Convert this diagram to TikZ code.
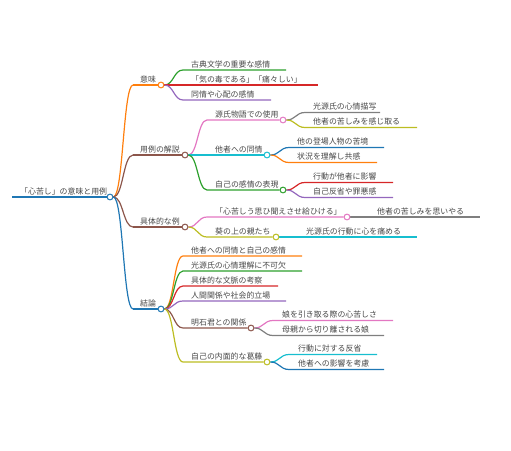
\documentclass[tikz,border=0pt]{standalone}
\usepackage{fontspec}
\setmainfont{Noto Sans CJK JP}
\usetikzlibrary{calc,backgrounds}
\definecolor{mmblue}{HTML}{1F77B4}
\definecolor{mmorange}{HTML}{FF7F0E}
\definecolor{mmgreen}{HTML}{2CA02C}
\definecolor{mmred}{HTML}{D62728}
\definecolor{mmpurple}{HTML}{9467BD}
\definecolor{mmbrown}{HTML}{8C564B}
\definecolor{mmpink}{HTML}{E377C2}
\definecolor{mmgray}{HTML}{7F7F7F}
\definecolor{mmolive}{HTML}{BCBD22}
\definecolor{mmcyan}{HTML}{17BECF}

\begin{document}
\begin{tikzpicture}[
  x=1pt, y=-1pt,
  txt/.style={font=\fontsize{7.9}{9}\selectfont, text=black!72,
              inner sep=0pt, anchor=base west},
  dot/.style={circle, fill=white, inner sep=0pt, minimum size=5.8pt,
              line width=1pt},
  br/.style={line width=1.2pt},
  link/.style={br, to path={let \p1=(\tikztostart), \p2=(\tikztotarget) in
              .. controls ({(\x1+\x2)/2},\y1) and ({(\x1+\x2)/2},\y2) .. (\tikztotarget)}}
]
\useasboundingbox (0,0) rectangle (511,450);

%% ---------- ROOT ----------
\coordinate (root0) at (12,197);
\node[txt] (root) at (20,194) {「心苦し」の意味と用例};
\node[dot, draw=mmblue] (rootd) at (110,197) {};

%% ---------- LEVEL 1 ----------
\coordinate (mean0) at (133,85);
\node[txt] (mean) at (140,82) {意味};
\node[dot, draw=mmorange] (meand) at (161,85) {};

\coordinate (use0) at (133,155);
\node[txt] (use) at (140,152) {用例の解説};
\node[dot, draw=mmbrown] (used) at (185,155) {};

\coordinate (ex0) at (133,227);
\node[txt] (ex) at (140,224) {具体的な例};
\node[dot, draw=mmbrown] (exd) at (185,227) {};

\coordinate (conc0) at (133,309);
\node[txt] (conc) at (140,306) {結論};
\node[dot, draw=mmblue] (concd) at (161,309) {};

%% ---------- MEANING ----------
\coordinate (m10) at (183,70);  \coordinate (m1e) at (286,70);
\node[txt] (m1) at (191,67) {古典文学の重要な感情};
\coordinate (m20) at (183,85);  \coordinate (m2e) at (318,85);
\node[txt] (m2) at (191,82) {「気の毒である」「痛々しい」};
\coordinate (m30) at (183,100); \coordinate (m3e) at (271,100);
\node[txt] (m3) at (191,97) {同情や心配の感情};

%% ---------- USAGE ----------
\coordinate (u10) at (207,120);
\node[txt] (u1) at (215,117) {源氏物語での使用};
\node[dot, draw=mmpink] (u1d) at (283,120) {};
\coordinate (u110) at (305,112.5); \coordinate (u11e) at (380,112.5);
\node[txt] (u11) at (313,109.5) {光源氏の心情描写};
\coordinate (u120) at (305,127.5); \coordinate (u12e) at (417,127.5);
\node[txt] (u12) at (313,124.5) {他者の苦しみを感じ取る};

\coordinate (u20) at (207,155);
\node[txt] (u2) at (215,152) {他者への同情};
\node[dot, draw=mmcyan] (u2d) at (267,155) {};
\coordinate (u210) at (289,147.5); \coordinate (u21e) at (384,147.5);
\node[txt] (u21) at (297,144.5) {他の登場人物の苦境};
\coordinate (u220) at (289,162.5); \coordinate (u22e) at (377,162.5);
\node[txt] (u22) at (297,159.5) {状況を理解し共感};

\coordinate (u30) at (207,190);
\node[txt] (u3) at (215,187) {自己の感情の表現};
\node[dot, draw=mmgreen] (u3d) at (283,190) {};
\coordinate (u310) at (305,182.5); \coordinate (u31e) at (393,182.5);
\node[txt] (u31) at (313,179.5) {行動が他者に影響};
\coordinate (u320) at (305,197.5); \coordinate (u32e) at (393,197.5);
\node[txt] (u32) at (313,194.5) {自己反省や罪悪感};

%% ---------- EXAMPLES ----------
\coordinate (e10) at (207,217);
\node[txt] (e1) at (215,214) {「心苦しう思ひ聞えさせ給ひける」};
\node[dot, draw=mmpink] (e1d) at (347,217) {};
\coordinate (e110) at (369,217); \coordinate (e11e) at (480,217);
\node[txt] (e11) at (377,214) {他者の苦しみを思いやる};

\coordinate (e20) at (207,237);
\node[txt] (e2) at (215,234) {葵の上の親たち};
\node[dot, draw=mmolive] (e2d) at (276,237) {};
\coordinate (e210) at (298,237); \coordinate (e21e) at (417,237);
\node[txt] (e21) at (306,234) {光源氏の行動に心を痛める};

%% ---------- CONCLUSION ----------
\coordinate (c10) at (183,256); \coordinate (c1e) at (302,256);
\node[txt] (c1) at (191,253) {他者への同情と自己の感情};
\coordinate (c20) at (183,271); \coordinate (c2e) at (302,271);
\node[txt] (c2) at (191,268) {光源氏の心情理解に不可欠};
\coordinate (c30) at (183,286); \coordinate (c3e) at (278,286);
\node[txt] (c3) at (191,283) {具体的な文脈の考察};
\coordinate (c40) at (183,301); \coordinate (c4e) at (286,301);
\node[txt] (c4) at (191,298) {人間関係や社会的立場};

\coordinate (c50) at (183,328);
\node[txt] (c5) at (191,325) {明石君との関係};
\node[dot, draw=mmbrown] (c5d) at (251,328) {};
\coordinate (c510) at (273,320.5); \coordinate (c51e) at (393,320.5);
\node[txt] (c51) at (282,317.5) {娘を引き取る際の心苦しさ};
\coordinate (c520) at (273,335.5); \coordinate (c52e) at (384,335.5);
\node[txt] (c52) at (282,332.5) {母親から切り離される娘};

\coordinate (c60) at (183,362);
\node[txt] (c6) at (191,359) {自己の内面的な葛藤};
\node[dot, draw=mmolive] (c6d) at (267,362) {};
\coordinate (c610) at (289,354.5); \coordinate (c61e) at (377,354.5);
\node[txt] (c61) at (298,351.5) {行動に対する反省};
\coordinate (c620) at (289,369.5); \coordinate (c62e) at (384,369.5);
\node[txt] (c62) at (298,366.5) {他者への影響を考慮};

%% ---------- BRANCHES ----------
\begin{scope}[on background layer]
\draw[br, mmblue] (root0) -- (rootd);
\draw[link, mmorange] (rootd.east) to (mean0);
\draw[br, mmorange] (mean0) -- (meand);
\draw[link, mmbrown] (rootd.east) to (use0);
\draw[br, mmbrown] (use0) -- (used);
\draw[link, mmbrown] (rootd.east) to (ex0);
\draw[br, mmbrown] (ex0) -- (exd);
\draw[link, mmblue] (rootd.east) to (conc0);
\draw[br, mmblue] (conc0) -- (concd);

\draw[link, mmgreen]  (meand.east) to (m10) -- (m1e);
\draw[link, mmred]    (meand.east) to (m20) -- (m2e);
\draw[link, mmpurple] (meand.east) to (m30) -- (m3e);

\draw[link, mmpink]  (used.east) to (u10) -- (u1d);
\draw[link, mmgray]  (u1d.east) to (u110) -- (u11e);
\draw[link, mmolive] (u1d.east) to (u120) -- (u12e);
\draw[link, mmcyan]  (used.east) to (u20) -- (u2d);
\draw[link, mmblue]  (u2d.east) to (u210) -- (u21e);
\draw[link, mmorange](u2d.east) to (u220) -- (u22e);
\draw[link, mmgreen] (used.east) to (u30) -- (u3d);
\draw[link, mmred]   (u3d.east) to (u310) -- (u31e);
\draw[link, mmpurple](u3d.east) to (u320) -- (u32e);

\draw[link, mmpink]  (exd.east) to (e10) -- (e1d);
\draw[br, mmgray]    (e1d.east) -- (e110) -- (e11e);
\draw[link, mmolive] (exd.east) to (e20) -- (e2d);
\draw[br, mmcyan]    (e2d.east) -- (e210) -- (e21e);

\draw[link, mmorange](concd.east) to (c10) -- (c1e);
\draw[link, mmgreen] (concd.east) to (c20) -- (c2e);
\draw[link, mmred]   (concd.east) to (c30) -- (c3e);
\draw[link, mmpurple](concd.east) to (c40) -- (c4e);
\draw[link, mmbrown] (concd.east) to (c50) -- (c5d);
\draw[link, mmpink]  (c5d.east) to (c510) -- (c51e);
\draw[link, mmgray]  (c5d.east) to (c520) -- (c52e);
\draw[link, mmolive] (concd.east) to (c60) -- (c6d);
\draw[link, mmcyan]  (c6d.east) to (c610) -- (c61e);
\draw[link, mmblue]  (c6d.east) to (c620) -- (c62e);
\end{scope}

\end{tikzpicture}
\end{document}
